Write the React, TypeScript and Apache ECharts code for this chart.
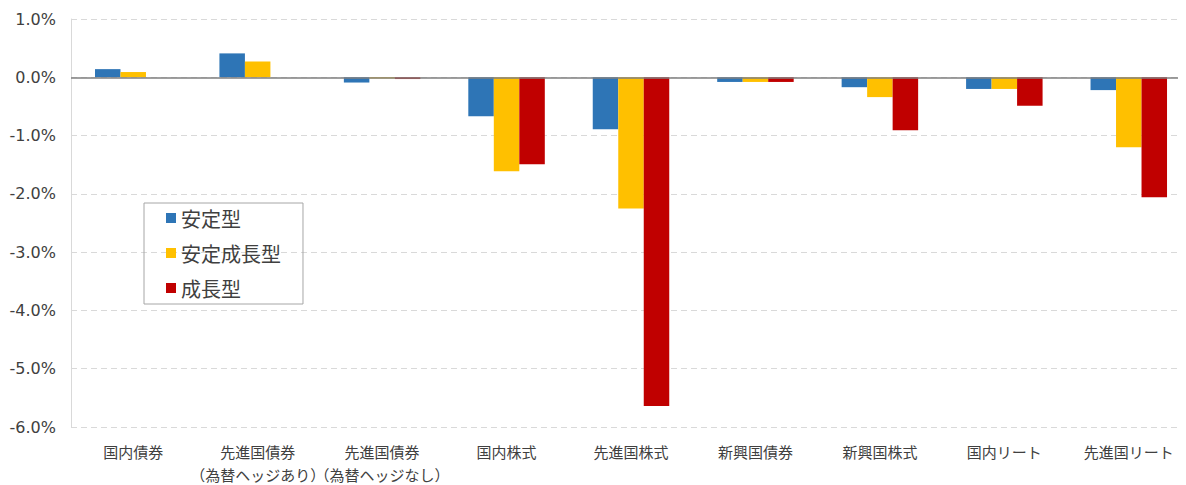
import React, { useEffect, useRef } from "react";
import * as echarts from "echarts";

const categories = [
  "国内債券",
  "先進国債券\n（為替ヘッジあり）",
  "先進国債券\n（為替ヘッジなし）",
  "国内株式",
  "先進国株式",
  "新興国債券",
  "新興国株式",
  "国内リート",
  "先進国リート",
];
const stable = [0.14, 0.41, -0.09, -0.67, -0.89, -0.08, -0.17, -0.2, -0.22];
const stableGrowth = [0.09, 0.27, -0.02, -1.61, -2.25, -0.08, -0.34, -0.2, -1.2];
const growth = [0.0, 0.0, -0.03, -1.49, -5.64, -0.08, -0.91, -0.49, -2.06];
const seriesNames = ["安定型", "安定成長型", "成長型"];
const colors = ["#2e75b6", "#ffc000", "#c00000"];

export default function App() {
  const ref = useRef<HTMLDivElement>(null);
  useEffect(() => {
    if (!ref.current) return;
    const chart = echarts.init(ref.current, undefined, { renderer: "svg" });
    const font = "'Noto Sans CJK JP', 'Noto Sans', sans-serif";
    const datas = [stable, stableGrowth, growth];
    chart.setOption({
      animation: false,
      textStyle: { fontFamily: font },
      grid: { left: 63, right: 3, top: 11, bottom: 58, containLabel: false, outerBoundsMode: "none" },
      legend: {
        orient: "vertical",
        left: 136,
        top: 195,
        padding: [5, 22, 6, 22],
        itemWidth: 10,
        itemHeight: 10,
        itemGap: 15,
        borderColor: "#a6a6a6",
        borderWidth: 1,
        icon: "rect",
        textStyle: { fontSize: 20, lineHeight: 20, color: "#404040", fontFamily: font },
        data: seriesNames,
      },
      xAxis: {
        type: "category",
        data: categories,
        axisLine: { show: false },
        axisTick: { show: false },
        axisLabel: {
          color: "#404040",
          fontSize: 15,
          margin: 13,
          lineHeight: 23,
          interval: 0,
          fontFamily: font,
        },
      },
      yAxis: {
        type: "value",
        min: -6,
        max: 1,
        interval: 1,
        axisLine: { show: true, lineStyle: { color: "#d9d9d9", width: 1 } },
        axisTick: { show: false },
        axisLabel: {
          color: "#404040",
          fontSize: 16,
          margin: 15,
          formatter: (v: number) => v.toFixed(1) + "%",
          fontFamily: "'DejaVu Sans', sans-serif",
        },
        splitLine: { lineStyle: { color: "#d9d9d9", type: [6, 4], width: 1 } },
      },
      series: datas.map((d, i) => ({
        name: seriesNames[i],
        type: "bar",
        data: d,
        barWidth: 25.5,
        barGap: "0%",
        itemStyle: { color: colors[i] },
        ...(i === 0
          ? {
              markLine: {
                silent: true,
                symbol: "none",
                label: { show: false },
                lineStyle: { color: "#7f7f7f", type: "solid", width: 1.5 },
                data: [{ yAxis: 0 }],
              },
            }
          : {}),
      })),
    });
    return () => chart.dispose();
  }, []);
  return <div ref={ref} style={{ width: 1186, height: 477 }} />;
}
